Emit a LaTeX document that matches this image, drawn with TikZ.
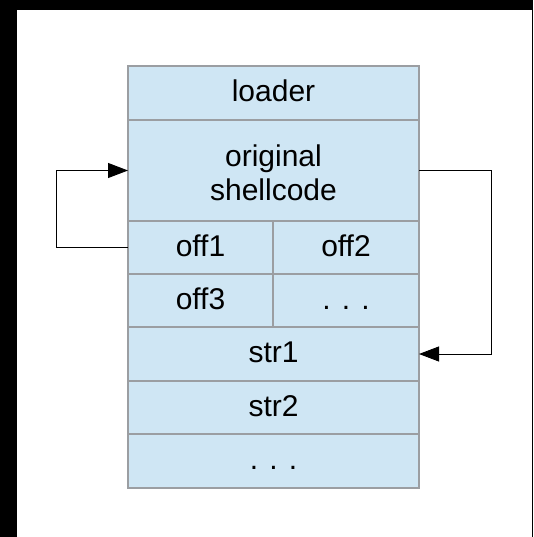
\documentclass[tikz,border=0pt]{standalone}
\usepackage{fontspec}
\setmainfont{Liberation Sans}
\usetikzlibrary{arrows.meta}
\definecolor{cellfill}{RGB}{207,230,244}
\definecolor{cellborder}{RGB}{155,158,162}
\tikzset{
  cell/.style={draw=cellborder, fill=cellfill, line width=1.3pt,
    inner sep=0pt, outer sep=0pt, anchor=north west,
    text height=17pt, text depth=0pt,
    font=\fontsize{30}{34}\selectfont},
  lbl/.style={inner sep=0pt, outer sep=0pt, align=center,
    font=\fontsize{30}{34}\selectfont},
  link/.style={draw=black, line width=0.9pt,
    -{Triangle[length=20pt,width=15pt]}},
}
\begin{document}
\begin{tikzpicture}[x=1pt,y=-1pt]
  \useasboundingbox (0,0) rectangle (533,537);
  % frame
  \fill[black] (0,0) rectangle (533,537);
  \fill[white] (17,10) rectangle (531.5,537);

  % memory layout
  \node[cell, minimum width=291pt, minimum height=54pt] (loader) at (128,66) {loader};
  \node[cell, minimum width=291pt, minimum height=101pt] (sc) at (128,120) {};
  \node[lbl] (sctext) at ([yshift=-2.5pt]sc.center) {original\\shellcode};
  \node[cell, minimum width=145pt, minimum height=53pt] (off1) at (128,221) {off1};
  \node[cell, minimum width=146pt, minimum height=53pt] (off2) at (273,221) {off2};
  \node[cell, minimum width=145pt, minimum height=53pt] (off3) at (128,274) {off3};
  \node[cell, minimum width=146pt, minimum height=53pt] (offdots) at (273,274) {. . .};
  \node[cell, minimum width=291pt, minimum height=54pt] (str1) at (128,327) {str1};
  \node[cell, minimum width=291pt, minimum height=53pt] (str2) at (128,381) {str2};
  \node[cell, minimum width=291pt, minimum height=54pt] (strdots) at (128,434) {. . .};

  % references
  \draw[link] (off1.west) -- ++(-72,0) |- (sc.west);
  \draw[link] (sc.east) -- ++(72,0) |- (str1.east);
\end{tikzpicture}
\end{document}
